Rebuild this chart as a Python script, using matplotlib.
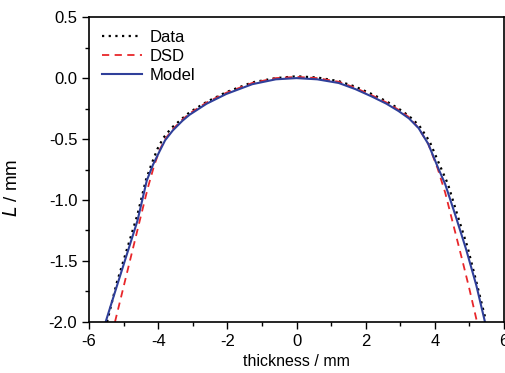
import numpy as np
import matplotlib.pyplot as plt
from matplotlib.ticker import MultipleLocator

plt.rcParams['font.family'] = ['Liberation Sans', 'DejaVu Sans']
plt.rcParams['axes.unicode_minus'] = False

# measured profile (black dotted)
data_x = [-5.48, -5.2, -4.9, -4.6, -4.36, -4.2, -4.02, -3.85, -3.62, -3.3, -3.09, -2.6, -2.03,
          -1.28, -0.6, 0, 0.6, 1.22, 1.7, 2.17, 2.6, 2.95, 3.25, 3.55, 3.85, 4.15, 4.38, 4.65,
          4.95, 5.2, 5.47]
data_y = [-2.0, -1.68, -1.40, -1.12, -0.84, -0.71, -0.58, -0.49, -0.41, -0.33, -0.28, -0.195,
          -0.115, -0.035, 0.0, 0.015, 0.005, -0.025, -0.07, -0.13, -0.19, -0.25, -0.31, -0.39,
          -0.52, -0.72, -0.87, -1.12, -1.39, -1.67, -1.98]

# DSD (red dashed)
dsd_x = [-5.25, -5.0, -4.75, -4.5, -4.3, -4.12, -3.96, -3.8, -3.58, -3.3, -3.09, -2.6, -2.03,
         -1.28, -0.6, 0, 0.6, 1.22, 1.7, 2.17, 2.6, 2.95, 3.25, 3.53, 3.81, 4.08, 4.3, 4.55,
         4.8, 5.0, 5.22]
dsd_y = [-2.0, -1.71, -1.42, -1.13, -0.90, -0.72, -0.59, -0.50, -0.42, -0.34, -0.29, -0.20,
         -0.12, -0.04, 0.0, 0.01, 0.0, -0.03, -0.08, -0.14, -0.20, -0.26, -0.32, -0.41, -0.54,
         -0.74, -0.94, -1.22, -1.50, -1.73, -2.0]

# model (blue solid)
model_x = [-5.52, -5.2, -4.9, -4.6, -4.33, -4.15, -3.96, -3.8, -3.58, -3.3, -3.09, -2.6, -2.03,
           -1.28, -0.6, 0, 0.6, 1.22, 1.7, 2.17, 2.6, 2.95, 3.25, 3.53, 3.81, 4.10, 4.30, 4.6,
           4.9, 5.2, 5.45]
model_y = [-2.0, -1.71, -1.44, -1.17, -0.84, -0.71, -0.60, -0.51, -0.43, -0.35, -0.30, -0.21,
           -0.13, -0.05, -0.01, 0.0, -0.01, -0.04, -0.09, -0.15, -0.21, -0.27, -0.33, -0.41,
           -0.54, -0.74, -0.87, -1.13, -1.40, -1.70, -2.0]

fig = plt.figure(figsize=(5.06, 3.73), dpi=100)
ax = fig.add_axes([0.176, 0.137, 0.820, 0.817])

ax.plot(data_x, data_y, color='black', ls=(0, (1, 2)), lw=1.6, label='Data')
ax.plot(dsd_x, dsd_y, color='#e8262a', ls=(0, (4, 3)), lw=1.3, label='DSD')
ax.plot(model_x, model_y, color='#2f3f9a', ls='-', lw=1.5, label='Model')

ax.set_xlim(-6, 6)
ax.set_ylim(-2.0, 0.5)
ax.xaxis.set_major_locator(MultipleLocator(2))
ax.xaxis.set_minor_locator(MultipleLocator(1))
ax.yaxis.set_major_locator(MultipleLocator(0.5))
ax.yaxis.set_minor_locator(MultipleLocator(0.25))
ax.tick_params(which='both', direction='out', top=False, right=False, labelsize=12, width=1)
ax.tick_params(which='major', length=5)
ax.tick_params(which='minor', length=3)
ax.yaxis.set_major_formatter(plt.FuncFormatter(lambda v, p: f'{v:.1f}'))
for s in ax.spines.values():
    s.set_linewidth(1.2)

ax.set_xlabel('thickness / mm', fontsize=11.5, labelpad=4)
ax.set_ylabel(r'$\it{L}$ / mm', fontsize=13.5)
ax.yaxis.set_label_coords(-0.165, 0.44)
ax.legend(loc='upper left', frameon=False, fontsize=12, handlelength=2.4,
          handletextpad=0.5, labelspacing=0.25, borderaxespad=0.35)

fig.savefig('out.png', dpi=100)
